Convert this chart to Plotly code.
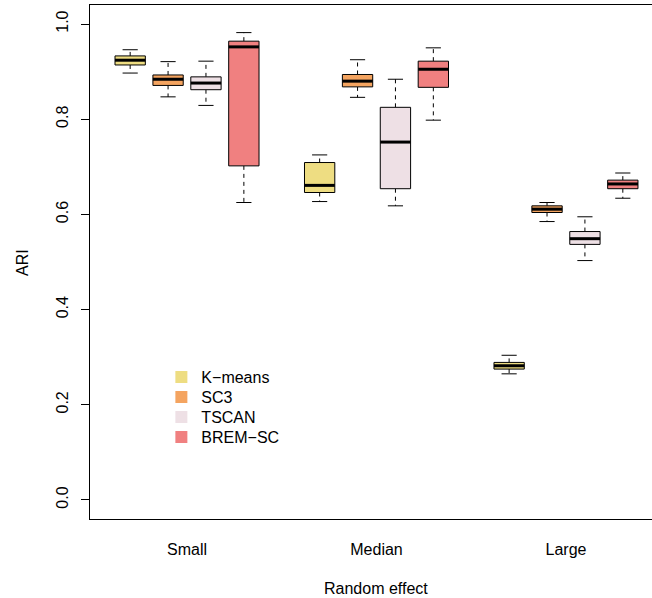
import plotly.graph_objects as go

# ---------------- data ----------------
groups = ["Small", "Median", "Large"]
methods = ["K\u2212means", "SC3", "TSCAN", "BREM\u2212SC"]
colors = ["#EEDD82", "#F4A460", "#EEE0E5", "#F08080"]

# rows = methods (K-means, SC3, TSCAN, BREM-SC), columns = groups (Small, Median, Large)
whisker_low = [[0.897, 0.627, 0.265],
               [0.847, 0.846, 0.585],
               [0.829, 0.618, 0.503],
               [0.625, 0.798, 0.634]]
q1 = [[0.914, 0.646, 0.275],
      [0.871, 0.868, 0.604],
      [0.862, 0.654, 0.537],
      [0.702, 0.867, 0.654]]
median = [[0.924, 0.661, 0.282],
          [0.884, 0.880, 0.611],
          [0.876, 0.752, 0.549],
          [0.952, 0.905, 0.664]]
q3 = [[0.933, 0.709, 0.289],
      [0.893, 0.894, 0.618],
      [0.889, 0.825, 0.564],
      [0.964, 0.922, 0.672]]
whisker_high = [[0.946, 0.725, 0.304],
                [0.921, 0.925, 0.625],
                [0.922, 0.884, 0.595],
                [0.982, 0.950, 0.687]]

y_ticks = [0.0, 0.2, 0.4, 0.6, 0.8, 1.0]

# ---------------- figure ----------------
BW = 0.4    # half box width (boxwex 0.8)
SW = 0.2    # half staple width
FONT = "Liberation Sans, Arial, Helvetica, sans-serif"
FS = 16

fig = go.Figure()

def pos(g, m):
    return g * 5 + m + 1

for m, name in enumerate(methods):
    wx, wy, cx, cy, bx, by, mx, my = [], [], [], [], [], [], [], []
    for g in range(len(groups)):
        p = pos(g, m)
        wx += [p, p, None, p, p, None]
        wy += [q3[m][g], whisker_high[m][g], None, q1[m][g], whisker_low[m][g], None]
        cx += [p - SW, p + SW, None, p - SW, p + SW, None]
        cy += [whisker_high[m][g], whisker_high[m][g], None, whisker_low[m][g], whisker_low[m][g], None]
        bx += [p - BW, p + BW, p + BW, p - BW, p - BW, None]
        by += [q1[m][g], q1[m][g], q3[m][g], q3[m][g], q1[m][g], None]
        mx += [p - BW, p + BW, None]
        my += [median[m][g], median[m][g], None]
    fig.add_trace(go.Scatter(x=wx, y=wy, mode="lines", showlegend=False, hoverinfo="skip",
                             line=dict(color="black", width=1, dash="4px,4px")))
    fig.add_trace(go.Scatter(x=cx, y=cy, mode="lines", showlegend=False, hoverinfo="skip",
                             line=dict(color="black", width=1)))
    fig.add_trace(go.Scatter(x=bx, y=by, mode="lines", fill="toself", fillcolor=colors[m],
                             showlegend=False, name=name,
                             line=dict(color="black", width=1)))
    fig.add_trace(go.Scatter(x=mx, y=my, mode="lines", showlegend=False, hoverinfo="skip",
                             line=dict(color="black", width=3)))

# one legend per entry so spacing matches the R legend (20 px rows)
legend_layouts = {}
for m, name in enumerate(methods):
    key = "legend" if m == 0 else f"legend{m + 1}"
    fig.add_trace(go.Scatter(x=[None], y=[None], mode="markers", name=name, legend=key,
                             marker=dict(symbol="square", size=12, color=colors[m],
                                         line=dict(width=0))))
    center_px = 377 + 20 * m
    top_px = center_px - 17
    legend_layouts[key] = dict(x=0.127, y=(519 - top_px) / 514, xanchor="left", yanchor="top",
                               bgcolor="rgba(0,0,0,0)", borderwidth=0,
                               font=dict(size=FS), itemwidth=30)

fig.update_layout(
    width=652, height=598,
    margin=dict(l=90, r=0, t=5, b=79),
    paper_bgcolor="white", plot_bgcolor="white",
    font=dict(family=FONT, size=FS, color="black"),
    showlegend=True,
    xaxis=dict(range=[-0.06, 14.77], tickvals=[2.5, 7.5, 12.5], ticktext=groups,
               ticks="", showgrid=False, zeroline=False, showline=True,
               linecolor="black", linewidth=1, mirror=True,
               ticklabelstandoff=16, tickfont=dict(size=FS)),
    yaxis=dict(range=[-0.04, 1.04], tickvals=y_ticks,
               ticktext=[f"{v:.1f}" for v in y_ticks], tickangle=-90,
               ticks="outside", ticklen=8, tickcolor="black", tickwidth=1,
               showgrid=False, zeroline=False, showline=True,
               linecolor="black", linewidth=1, ticklabelstandoff=7,
               tickfont=dict(size=FS)),
    annotations=[
        dict(text="Random effect", x=7.5, xref="x", y=-0.136, yref="paper",
             xanchor="center", yanchor="middle", showarrow=False, font=dict(size=FS)),
        dict(text="ARI", x=-0.121, xref="paper", y=0.5, yref="paper", textangle=-90,
             xanchor="center", yanchor="middle", showarrow=False, font=dict(size=FS)),
    ],
)
fig.update_layout(**legend_layouts)

fig.write_html("out.html")
